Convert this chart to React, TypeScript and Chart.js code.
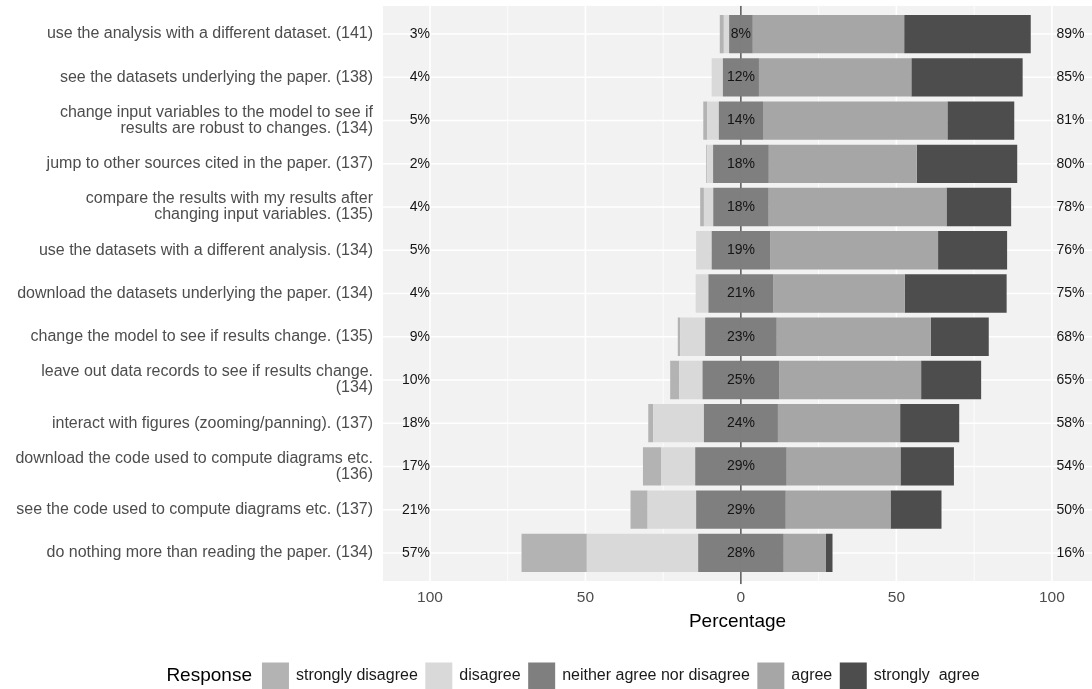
import { useEffect, useRef } from 'react';
import { Chart, registerables } from 'chart.js';

Chart.register(...registerables);

const FONT = "'Liberation Sans', Arial, sans-serif";

const categories: string[][] = [
  ['use the analysis with a different dataset. (141)'],
  ['see the datasets underlying the paper. (138)'],
  ['change input variables to the model to see if', 'results are robust to changes. (134)'],
  ['jump to other sources cited in the paper. (137)'],
  ['compare the results with my results after', 'changing input variables. (135)'],
  ['use the datasets with a different analysis. (134)'],
  ['download the datasets underlying the paper. (134)'],
  ['change the model to see if results change. (135)'],
  ['leave out data records to see if results change.', '(134)'],
  ['interact with figures (zooming/panning). (137)'],
  ['download the code used to compute diagrams etc.', '(136)'],
  ['see the code used to compute diagrams etc. (137)'],
  ['do nothing more than reading the paper. (134)'],
];

const stronglyDisagree = [1.3, 0, 1.3, 0.3, 1.2, 0, 0, 0.8, 2.9, 1.6, 5.8, 5.5, 21.0];
const disagree = [1.7, 3.6, 3.7, 1.9, 3.0, 5.0, 4.1, 8.0, 7.5, 16.3, 11.0, 15.6, 35.8];
const neutral = [7.6, 11.6, 14.2, 17.9, 17.8, 18.8, 20.9, 23.0, 24.7, 23.8, 29.4, 28.8, 27.5];
const agree = [48.7, 49.0, 59.3, 47.6, 57.2, 54.0, 42.2, 49.6, 45.6, 39.3, 36.6, 33.7, 13.6];
const stronglyAgree = [40.7, 35.8, 21.5, 32.3, 20.8, 22.2, 32.8, 18.6, 19.3, 19.0, 17.2, 16.4, 2.1];

const xTicks = [-100, -50, 0, 50, 100];
const gridValues = [-100, -75, -50, -25, 0, 25, 50, 75, 100];

const legendTitle = 'Response';
const legendLabels = ['strongly disagree', 'disagree', 'neither agree nor disagree', 'agree', 'strongly  agree'];
const colors = ['#B3B3B3', '#D9D9D9', '#7F7F7F', '#A6A6A6', '#4D4D4D'];

const likertPlugin = {
  id: 'likertPanel',
  beforeDatasetsDraw(chart: any) {
    const { ctx, chartArea: ca, scales } = chart;
    const x = scales.x;
    const y = scales.y;
    const step = (ca.bottom - ca.top) / categories.length;
    const top = ca.top - 0.15 * step;
    const bottom = ca.bottom + 0.15 * step;
    ctx.save();
    ctx.fillStyle = '#F2F2F2';
    ctx.fillRect(ca.left, top, ca.right - ca.left, bottom - top);
    ctx.strokeStyle = '#FFFFFF';
    gridValues.forEach((v) => {
      const px = x.getPixelForValue(v);
      ctx.lineWidth = v % 50 === 0 ? 1.6 : 0.8;
      ctx.beginPath();
      ctx.moveTo(px, top);
      ctx.lineTo(px, bottom);
      ctx.stroke();
    });
    categories.forEach((_, i) => {
      const py = y.getPixelForValue(i);
      ctx.lineWidth = 1.6;
      ctx.beginPath();
      ctx.moveTo(ca.left, py);
      ctx.lineTo(ca.right, py);
      ctx.stroke();
    });
    const x0 = x.getPixelForValue(0);
    ctx.strokeStyle = '#000000';
    ctx.lineWidth = 1;
    ctx.beginPath();
    ctx.moveTo(x0, top);
    ctx.lineTo(x0, bottom + 3);
    ctx.stroke();
    ctx.restore();
  },
  afterDatasetsDraw(chart: any) {
    const { ctx, scales } = chart;
    const x = scales.x;
    const y = scales.y;
    ctx.save();
    ctx.font = `14px ${FONT}`;
    ctx.fillStyle = '#141414';
    ctx.textBaseline = 'middle';
    categories.forEach((_, i) => {
      const py = y.getPixelForValue(i);
      const left = Math.round(stronglyDisagree[i] + disagree[i]);
      const mid = Math.round(neutral[i]);
      const right = Math.round(agree[i] + stronglyAgree[i]);
      ctx.textAlign = 'right';
      ctx.fillText(`${left}%`, x.getPixelForValue(-100), py);
      ctx.textAlign = 'center';
      ctx.fillText(`${mid}%`, x.getPixelForValue(0), py);
      ctx.textAlign = 'left';
      ctx.fillText(`${right}%`, x.getPixelForValue(101.5), py);
    });
    ctx.restore();
  },
  afterDraw(chart: any) {
    const { ctx } = chart;
    const cy = 676;
    const key = 27;
    const gapIn = 7;
    const gapOut = 7.5;
    ctx.save();
    ctx.textBaseline = 'middle';
    ctx.textAlign = 'left';
    ctx.font = `19px ${FONT}`;
    const titleW = ctx.measureText(legendTitle).width;
    ctx.font = `16px ${FONT}`;
    const widths = legendLabels.map((t) => ctx.measureText(t).width);
    const total = titleW + 10 + widths.reduce((s, w) => s + key + gapIn + w, 0) + gapOut * (legendLabels.length - 1);
    let cx = 573 - total / 2;
    ctx.font = `19px ${FONT}`;
    ctx.fillStyle = '#000000';
    ctx.fillText(legendTitle, cx, cy);
    cx += titleW + 10;
    ctx.font = `16px ${FONT}`;
    legendLabels.forEach((t, i) => {
      ctx.fillStyle = colors[i];
      ctx.fillRect(cx, cy - key / 2, key, key);
      cx += key + gapIn;
      ctx.fillStyle = '#1A1A1A';
      ctx.fillText(t, cx, cy);
      cx += widths[i] + gapOut;
    });
    ctx.restore();
  },
};

export default function App() {
  const canvasRef = useRef<HTMLCanvasElement | null>(null);

  useEffect(() => {
    if (!canvasRef.current) return;
    const half = neutral.map((v) => v / 2);
    const chart = new Chart(canvasRef.current, {
      type: 'bar',
      data: {
        labels: categories as any,
        datasets: [
          { label: 'neither agree nor disagree', data: half.map((v) => -v), backgroundColor: colors[2] },
          { label: 'disagree', data: disagree.map((v) => -v), backgroundColor: colors[1] },
          { label: 'strongly disagree', data: stronglyDisagree.map((v) => -v), backgroundColor: colors[0] },
          { label: 'neither agree nor disagree', data: half, backgroundColor: colors[2] },
          { label: 'agree', data: agree, backgroundColor: colors[3] },
          { label: 'strongly agree', data: stronglyAgree, backgroundColor: colors[4] },
        ].map((d) => ({ ...d, stack: 'likert', barPercentage: 0.885, categoryPercentage: 1, borderWidth: 0 })),
      },
      options: {
        indexAxis: 'y',
        animation: false,
        responsive: true,
        maintainAspectRatio: false,
        layout: { padding: { top: 12.4, bottom: 54.4, left: 0, right: 0 } },
        plugins: { legend: { display: false }, tooltip: { enabled: false } },
        scales: {
          x: {
            type: 'linear',
            stacked: true,
            min: -115.1,
            max: 112.9,
            grid: { display: false },
            border: { display: false },
            afterBuildTicks: (s: any) => {
              s.ticks = xTicks.map((v) => ({ value: v }));
            },
            ticks: {
              callback: (v: any) => String(Math.abs(Number(v))),
              color: '#4D4D4D',
              font: { family: FONT, size: 15.5 },
              padding: 6,
              maxRotation: 0,
              autoSkip: false,
            },
            title: {
              display: true,
              text: 'Percentage',
              color: '#000000',
              font: { family: FONT, size: 19 },
              padding: { top: 0, bottom: 1.2 },
            },
            afterFit: (s: any) => {
              s.height = 60;
            },
          },
          y: {
            type: 'category',
            stacked: true,
            offset: true,
            grid: { display: false },
            border: { display: false },
            ticks: {
              color: '#4D4D4D',
              font: { family: FONT, size: 16, lineHeight: 1.0 },
              padding: 2,
              autoSkip: false,
            },
            afterFit: (s: any) => {
              s.width = 383;
            },
          },
        },
      } as any,
      plugins: [likertPlugin],
    });
    return () => chart.destroy();
  }, []);

  return (
    <div style={{ position: 'fixed', left: 0, top: 0, width: 1092, height: 689, background: '#FFFFFF' }}>
      <canvas ref={canvasRef} />
    </div>
  );
}
